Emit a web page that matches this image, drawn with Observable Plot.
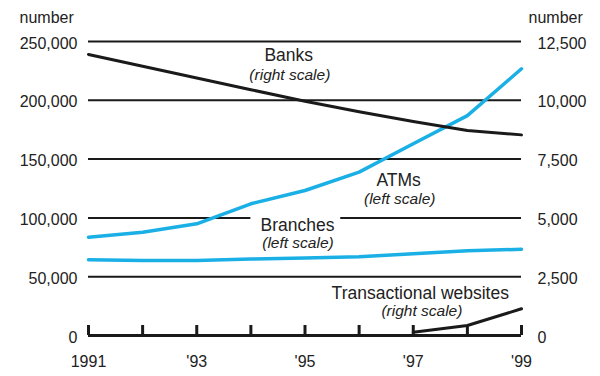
<!DOCTYPE html>
<html>
<head>
<meta charset="utf-8">
<script src="https://cdn.jsdelivr.net/npm/d3@7"></script>
<script src="https://cdn.jsdelivr.net/npm/@observablehq/plot@0.6"></script>
<style>
  html, body { margin: 0; padding: 0; background: #fff; }
</style>
</head>
<body>
<div id="chart"></div>
<script>
// ---- data ----
const years = [1991, 1992, 1993, 1994, 1995, 1996, 1997, 1998, 1999];
const banks = [11950, 11450, 10950, 10450, 9960, 9510, 9100, 8720, 8530];        // right scale
const atms = [83600, 87800, 95000, 112000, 123300, 138900, 163000, 187000, 226800]; // left scale
const branches = [64400, 63800, 63800, 65000, 66000, 67000, 69500, 72000, 73300];   // left scale
const websiteYears = [1997, 1998, 1999];
const websites = [140, 425, 1135];                                                   // right scale

const leftTicks = [0, 50000, 100000, 150000, 200000, 250000];
const rightTicks = [0, 2500, 5000, 7500, 10000, 12500];
const xTickYears = [1991, 1993, 1995, 1997, 1999];
const xTickLabels = ["1991", "'93", "'95", "'97", "'99"];

const labelNames = ["Banks", "ATMs", "Branches", "Transactional websites"];
const labelNotes = ["(right scale)", "(left scale)", "(left scale)", "(right scale)"];
const labelX = [1994.7, 1996.73, 1994.86, 1997.13];
const labelY = [233000, 127500, 88860, 31460];
const noteX = [1994.72, 1996.75, 1994.87, 1997.16];
const noteY = [217000, 111500, 74400, 16200];

// gridline segments (the 100,000 line is broken around the "Branches" label)
const gridY = [50000, 100000, 100000, 150000, 200000, 250000];
const gridX1 = [1991, 1991, 1995.66, 1991, 1991, 1991];
const gridX2 = [1999, 1994.0, 1999, 1999, 1999, 1999];

// ---- build tables ----
const factor = leftTicks[leftTicks.length - 1] / rightTicks[rightTicks.length - 1]; // right -> left units
const grid = gridY.map((y, i) => ({y, x1: gridX1[i], x2: gridX2[i]}));
const base = [{y: 0, x1: years[0], x2: years[years.length - 1]}];
const banksData = years.map((x, i) => ({x, y: banks[i] * factor}));
const atmData = years.map((x, i) => ({x, y: atms[i]}));
const branchData = years.map((x, i) => ({x, y: branches[i]}));
const webData = websiteYears.map((x, i) => ({x, y: websites[i] * factor}));
const names = labelNames.map((t, i) => ({t, x: labelX[i], y: labelY[i]}));
const notes = labelNotes.map((t, i) => ({t, x: noteX[i], y: noteY[i]}));
const xLab = new Map(xTickYears.map((y, i) => [y, xTickLabels[i]]));

const cyan = "#1ab0e6";
const ink = "#1a1a1a";

const chart = Plot.plot({
  width: 600,
  height: 376,
  marginLeft: 88,
  marginRight: 79,
  marginTop: 41,
  marginBottom: 41,
  x: {domain: [years[0], years[years.length - 1]], axis: null},
  y: {domain: [leftTicks[0], leftTicks[leftTicks.length - 1]], axis: null},
  style: {fontFamily: "'Liberation Sans', Arial, sans-serif", fontSize: "16px", color: "#222", background: "#fff"},
  marks: [
    Plot.ruleY(grid, {y: "y", x1: "x1", x2: "x2", stroke: ink, strokeWidth: 2}),
    Plot.ruleY(base, {y: "y", x1: "x1", x2: "x2", stroke: ink, strokeWidth: 3}),
    Plot.ruleX(years, {x: d => d, y1: 0, y2: 8500, stroke: ink, strokeWidth: 3}),
    Plot.line(branchData, {x: "x", y: "y", stroke: cyan, strokeWidth: 3.5}),
    Plot.line(atmData, {x: "x", y: "y", stroke: cyan, strokeWidth: 3.5}),
    Plot.line(banksData, {x: "x", y: "y", stroke: ink, strokeWidth: 3}),
    Plot.line(webData, {x: "x", y: "y", stroke: ink, strokeWidth: 3}),
    Plot.axisY(leftTicks, {anchor: "left", label: null, tickSize: 0, tickPadding: 11, dy: 2, fontSize: 16,
      tickFormat: d3.format(","), fill: "#222"}),
    Plot.axisY(leftTicks, {anchor: "right", label: null, tickSize: 0, tickPadding: 16, dy: 2, fontSize: 16,
      tickFormat: d => d3.format(",")(d / factor), fill: "#222"}),
    Plot.axisX(xTickYears, {anchor: "bottom", label: null, tickSize: 0, tickPadding: 20, fontSize: 16,
      tickFormat: d => xLab.get(d), fill: "#222"}),
    Plot.text(["number"], {text: d => d, frameAnchor: "top-left", textAnchor: "start", lineAnchor: "bottom",
      dx: -69, dy: -19, fontSize: 16, fill: "#222"}),
    Plot.text(["number"], {text: d => d, frameAnchor: "top-right", textAnchor: "start", lineAnchor: "bottom",
      dx: 7, dy: -19, fontSize: 16, fill: "#222"}),
    Plot.text(names, {x: "x", y: "y", text: "t", lineAnchor: "bottom", fontSize: 17.5, fill: "#222"}),
    Plot.text(notes, {x: "x", y: "y", text: "t", lineAnchor: "bottom", fontSize: 15.5, fontStyle: "italic", fill: "#222"})
  ]
});
document.getElementById("chart").appendChild(chart);
</script>
</body>
</html>
